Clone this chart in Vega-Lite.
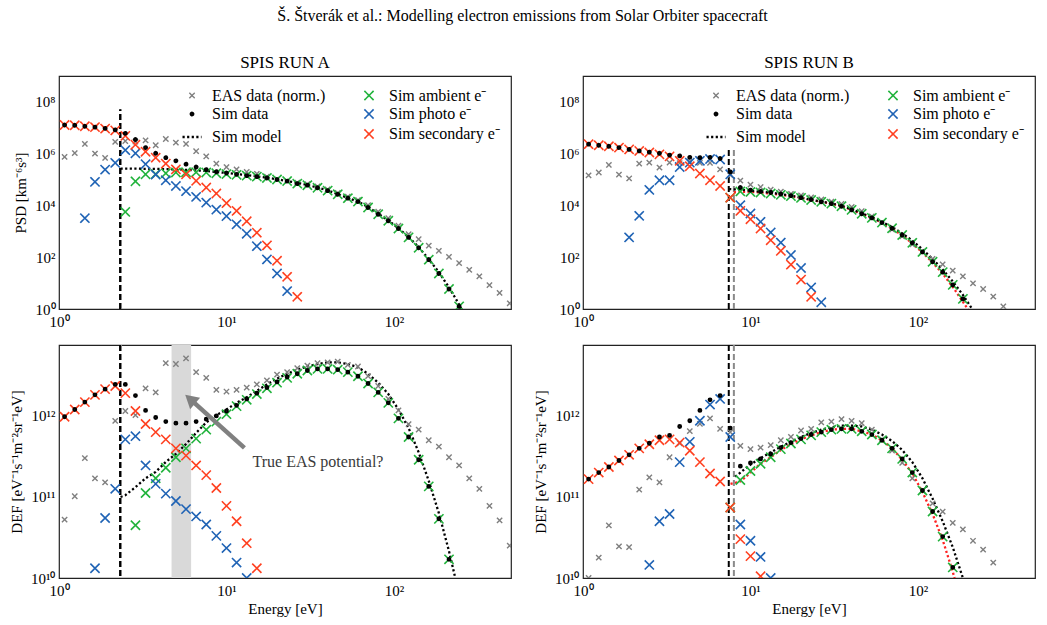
{
  "$schema": "https://vega.github.io/schema/vega-lite/v6.json",
  "padding": {"left": 8, "top": 7, "right": 5, "bottom": 4},
  "title": {"text": "Š. Štverák   et al.: Modelling electron emissions from Solar Orbiter spacecraft", "fontSize": 16, "offset": 29, "anchor": "middle"},
  "config": {
    "font": "Liberation Serif",
    "view": {"stroke": "#222222", "strokeWidth": 1.2},
    "axis": {"domain": false, "grid": false, "labelFont": "Liberation Serif", "labelFontSize": 15, "labelColor": "black", "titleFont": "Liberation Serif", "titleFontSize": 15, "titleFontWeight": "normal", "titleColor": "black", "tickColor": "#222222", "tickWidth": 1},
    "legend": {"labelFont": "Liberation Serif"},
    "title": {"font": "Liberation Serif", "fontSize": 17, "fontWeight": "normal", "color": "black", "offset": 4},
    "text": {"font": "Liberation Serif"}
  },
  "datasets": {
    "A_psd": [
      {"s":"eas","e":1.08,"v":7.24e5},{"s":"eas","e":1.242,"v":1.02e6},{"s":"eas","e":1.427,"v":2.29e6},{"s":"eas","e":1.64,"v":9.77e5},{"s":"eas","e":1.885,"v":6.61e5},{"s":"eas","e":2.166,"v":2.75e6},{"s":"eas","e":2.489,"v":2.95e6},{"s":"eas","e":2.861,"v":2.82e6},{"s":"eas","e":3.288,"v":3.16e6},{"s":"eas","e":3.779,"v":2.04e6},{"s":"eas","e":4.342,"v":3.55e6},{"s":"eas","e":4.989,"v":2.57e6},{"s":"eas","e":5.734,"v":2.29e6},{"s":"eas","e":6.589,"v":1.2e6},{"s":"eas","e":7.572,"v":7.59e5},{"s":"eas","e":8.701,"v":3.98e5},{"s":"eas","e":10,"v":2.95e5},{"s":"eas","e":11.49,"v":2.4e5},{"s":"eas","e":13.21,"v":1.91e5},{"s":"eas","e":15.18,"v":1.62e5},{"s":"eas","e":17.44,"v":1.26e5},{"s":"eas","e":20.04,"v":1.0e5},{"s":"eas","e":23.03,"v":8.51e4},{"s":"eas","e":26.47,"v":7.41e4},{"s":"eas","e":30.42,"v":6.46e4},{"s":"eas","e":34.96,"v":5.25e4},{"s":"eas","e":40.18,"v":4.07e4},{"s":"eas","e":46.17,"v":2.95e4},{"s":"eas","e":53.06,"v":2.14e4},{"s":"eas","e":60.97,"v":1.58e4},{"s":"eas","e":70.07,"v":1.0e4},{"s":"eas","e":80.54,"v":5.62e3},{"s":"eas","e":92.55,"v":3.16e3},{"s":"eas","e":106.4,"v":1.62e3},{"s":"eas","e":122.3,"v":759},{"s":"eas","e":140.5,"v":490},{"s":"eas","e":161.4,"v":275},{"s":"eas","e":185.5,"v":174},{"s":"eas","e":213.2,"v":102},{"s":"eas","e":245,"v":58.9},{"s":"eas","e":281.6,"v":32.4},{"s":"eas","e":323.6,"v":18.2},{"s":"eas","e":371.9,"v":8.32},{"s":"eas","e":427.4,"v":4.17},{"s":"eas","e":491.2,"v":1.66},
      {"s":"amb","e":2.489,"v":5.5e3},{"s":"amb","e":2.861,"v":8.32e4},{"s":"amb","e":3.288,"v":1.55e5},{"s":"amb","e":3.779,"v":1.58e5},{"s":"amb","e":4.342,"v":1.7e5},{"s":"amb","e":4.989,"v":1.82e5},{"s":"amb","e":5.734,"v":1.86e5},{"s":"amb","e":6.589,"v":1.86e5},{"s":"amb","e":7.572,"v":1.82e5},{"s":"amb","e":8.701,"v":1.7e5},{"s":"amb","e":10,"v":1.58e5},{"s":"amb","e":11.49,"v":1.48e5},{"s":"amb","e":13.21,"v":1.38e5},{"s":"amb","e":15.18,"v":1.26e5},{"s":"amb","e":17.44,"v":1.12e5},{"s":"amb","e":20.04,"v":9.77e4},{"s":"amb","e":23.03,"v":8.51e4},{"s":"amb","e":26.47,"v":6.76e4},{"s":"amb","e":30.42,"v":5.89e4},{"s":"amb","e":34.96,"v":4.68e4},{"s":"amb","e":40.18,"v":3.63e4},{"s":"amb","e":46.17,"v":2.63e4},{"s":"amb","e":53.06,"v":1.86e4},{"s":"amb","e":60.97,"v":1.38e4},{"s":"amb","e":70.07,"v":8.13e3},{"s":"amb","e":80.54,"v":4.47e3},{"s":"amb","e":92.55,"v":2.51e3},{"s":"amb","e":106.4,"v":1.26e3},{"s":"amb","e":122.3,"v":575},{"s":"amb","e":140.5,"v":229},{"s":"amb","e":161.4,"v":79.4},{"s":"amb","e":185.5,"v":23.4},{"s":"amb","e":213.2,"v":5.89},{"s":"amb","e":245,"v":1.26},
      {"s":"pho","e":1.427,"v":3.16e3},{"s":"pho","e":1.64,"v":7.94e4},{"s":"pho","e":1.885,"v":2.34e5},{"s":"pho","e":2.166,"v":4.27e5},{"s":"pho","e":2.489,"v":1.32e6},{"s":"pho","e":2.861,"v":1.0e6},{"s":"pho","e":3.288,"v":3.8e5},{"s":"pho","e":3.779,"v":1.51e5},{"s":"pho","e":4.342,"v":9.12e4},{"s":"pho","e":4.989,"v":5.5e4},{"s":"pho","e":5.734,"v":3.47e4},{"s":"pho","e":6.589,"v":2.09e4},{"s":"pho","e":7.572,"v":1.26e4},{"s":"pho","e":8.701,"v":6.76e3},{"s":"pho","e":10,"v":3.8e3},{"s":"pho","e":11.49,"v":1.82e3},{"s":"pho","e":13.21,"v":794},{"s":"pho","e":15.18,"v":263},{"s":"pho","e":17.44,"v":81.3},{"s":"pho","e":20.04,"v":23.4},{"s":"pho","e":23.03,"v":4.9},
      {"s":"sec","e":1.08,"v":1.23e7},{"s":"sec","e":1.242,"v":1.2e7},{"s":"sec","e":1.427,"v":1.1e7},{"s":"sec","e":1.64,"v":1.02e7},{"s":"sec","e":1.885,"v":8.91e6},{"s":"sec","e":2.166,"v":7.59e6},{"s":"sec","e":2.489,"v":4.68e6},{"s":"sec","e":2.861,"v":2.14e6},{"s":"sec","e":3.288,"v":1.15e6},{"s":"sec","e":3.779,"v":6.76e5},{"s":"sec","e":4.342,"v":3.98e5},{"s":"sec","e":4.989,"v":2.4e5},{"s":"sec","e":5.734,"v":1.55e5},{"s":"sec","e":6.589,"v":8.71e4},{"s":"sec","e":7.572,"v":4.79e4},{"s":"sec","e":8.701,"v":2.82e4},{"s":"sec","e":10,"v":1.2e4},{"s":"sec","e":11.49,"v":6.03e3},{"s":"sec","e":13.21,"v":2.4e3},{"s":"sec","e":15.18,"v":871},{"s":"sec","e":17.44,"v":282},{"s":"sec","e":20.04,"v":72.4},{"s":"sec","e":23.03,"v":17.4},{"s":"sec","e":26.47,"v":2.95},
      {"s":"sim","e":1.08,"v":1.23e7},{"s":"sim","e":1.242,"v":1.2e7},{"s":"sim","e":1.427,"v":1.1e7},{"s":"sim","e":1.64,"v":1.02e7},{"s":"sim","e":1.885,"v":9.1e6},{"s":"sim","e":2.166,"v":8.0e6},{"s":"sim","e":2.489,"v":5.89e6},{"s":"sim","e":2.861,"v":3.39e6},{"s":"sim","e":3.288,"v":1.66e6},{"s":"sim","e":3.779,"v":1.0e6},{"s":"sim","e":4.342,"v":6.76e5},{"s":"sim","e":4.989,"v":5.13e5},{"s":"sim","e":5.734,"v":3.8e5},{"s":"sim","e":6.589,"v":2.95e5},{"s":"sim","e":7.572,"v":2.34e5},{"s":"sim","e":8.701,"v":1.95e5},{"s":"sim","e":10,"v":1.74e5},{"s":"sim","e":11.49,"v":1.55e5},{"s":"sim","e":13.21,"v":1.38e5},{"s":"sim","e":15.18,"v":1.26e5},{"s":"sim","e":17.44,"v":1.12e5},{"s":"sim","e":20.04,"v":9.77e4},{"s":"sim","e":23.03,"v":8.51e4},{"s":"sim","e":26.47,"v":6.76e4},{"s":"sim","e":30.42,"v":5.89e4},{"s":"sim","e":34.96,"v":4.68e4},{"s":"sim","e":40.18,"v":3.63e4},{"s":"sim","e":46.17,"v":2.63e4},{"s":"sim","e":53.06,"v":1.86e4},{"s":"sim","e":60.97,"v":1.38e4},{"s":"sim","e":70.07,"v":8.13e3},{"s":"sim","e":80.54,"v":4.47e3},{"s":"sim","e":92.55,"v":2.51e3},{"s":"sim","e":106.4,"v":1.26e3},{"s":"sim","e":122.3,"v":575},{"s":"sim","e":140.5,"v":229},{"s":"sim","e":161.4,"v":79.4},{"s":"sim","e":185.5,"v":23.4},{"s":"sim","e":213.2,"v":5.89},{"s":"sim","e":245,"v":1.26},
      {"s":"mod","e":2.33,"v":2.57e5},{"s":"mod","e":2.489,"v":2.57e5},{"s":"mod","e":2.861,"v":2.57e5},{"s":"mod","e":3.288,"v":2.51e5},{"s":"mod","e":3.779,"v":2.51e5},{"s":"mod","e":4.342,"v":2.45e5},{"s":"mod","e":4.989,"v":2.4e5},{"s":"mod","e":5.734,"v":2.29e5},{"s":"mod","e":6.589,"v":2.19e5},{"s":"mod","e":7.572,"v":2.09e5},{"s":"mod","e":8.701,"v":1.91e5},{"s":"mod","e":10,"v":1.74e5},{"s":"mod","e":11.49,"v":1.58e5},{"s":"mod","e":13.21,"v":1.45e5},{"s":"mod","e":15.18,"v":1.29e5},{"s":"mod","e":17.44,"v":1.15e5},{"s":"mod","e":20.04,"v":1.0e5},{"s":"mod","e":23.03,"v":8.51e4},{"s":"mod","e":26.47,"v":7.24e4},{"s":"mod","e":30.42,"v":6.03e4},{"s":"mod","e":34.96,"v":4.79e4},{"s":"mod","e":40.18,"v":3.72e4},{"s":"mod","e":46.17,"v":2.69e4},{"s":"mod","e":53.06,"v":1.91e4},{"s":"mod","e":60.97,"v":1.38e4},{"s":"mod","e":70.07,"v":8.51e3},{"s":"mod","e":80.54,"v":4.68e3},{"s":"mod","e":92.55,"v":2.57e3},{"s":"mod","e":106.4,"v":1.29e3},{"s":"mod","e":122.3,"v":589},{"s":"mod","e":140.5,"v":240},{"s":"mod","e":161.4,"v":83},{"s":"mod","e":185.5,"v":26},{"s":"mod","e":213.2,"v":6.8},{"s":"mod","e":245,"v":1.5},{"s":"mod","e":281.6,"v":0.25}
    ],
    "B_psd": [
      {"s":"eas","e":1.08,"v":1.41e5},{"s":"eas","e":1.242,"v":1.82e5},{"s":"eas","e":1.427,"v":3.55e5},{"s":"eas","e":1.64,"v":1.51e5},{"s":"eas","e":1.885,"v":1.07e5},{"s":"eas","e":2.166,"v":3.98e5},{"s":"eas","e":2.489,"v":4.37e5},{"s":"eas","e":2.861,"v":2.82e5},{"s":"eas","e":3.288,"v":4.37e5},{"s":"eas","e":3.779,"v":4.17e5},{"s":"eas","e":4.342,"v":4.79e5},{"s":"eas","e":4.989,"v":4.27e5},{"s":"eas","e":5.734,"v":4.27e5},{"s":"eas","e":6.589,"v":2.4e5},{"s":"eas","e":7.572,"v":1.45e5},{"s":"eas","e":8.701,"v":8.91e4},{"s":"eas","e":10,"v":6.17e4},{"s":"eas","e":11.49,"v":5.01e4},{"s":"eas","e":13.21,"v":3.98e4},{"s":"eas","e":15.18,"v":3.31e4},{"s":"eas","e":17.44,"v":2.75e4},{"s":"eas","e":20.04,"v":2.4e4},{"s":"eas","e":23.03,"v":2.0e4},{"s":"eas","e":26.47,"v":1.66e4},{"s":"eas","e":30.42,"v":1.38e4},{"s":"eas","e":34.96,"v":1.12e4},{"s":"eas","e":40.18,"v":8.51e3},{"s":"eas","e":46.17,"v":5.9e3},{"s":"eas","e":53.06,"v":3.72e3},{"s":"eas","e":60.97,"v":2.14e3},{"s":"eas","e":70.07,"v":1.15e3},{"s":"eas","e":80.54,"v":630},{"s":"eas","e":92.55,"v":308},{"s":"eas","e":106.4,"v":164},{"s":"eas","e":122.3,"v":86},{"s":"eas","e":140.5,"v":52.5},{"s":"eas","e":161.4,"v":30.2},{"s":"eas","e":185.5,"v":18.2},{"s":"eas","e":213.2,"v":9.77},{"s":"eas","e":245,"v":5.89},{"s":"eas","e":281.6,"v":3.02},{"s":"eas","e":323.6,"v":1.26},
      {"s":"amb","e":7.572,"v":1.95e4},{"s":"amb","e":8.701,"v":3.39e4},{"s":"amb","e":10,"v":3.24e4},{"s":"amb","e":11.49,"v":3.09e4},{"s":"amb","e":13.21,"v":2.82e4},{"s":"amb","e":15.18,"v":2.51e4},{"s":"amb","e":17.44,"v":2.24e4},{"s":"amb","e":20.04,"v":1.91e4},{"s":"amb","e":23.03,"v":1.58e4},{"s":"amb","e":26.47,"v":1.35e4},{"s":"amb","e":30.42,"v":1.15e4},{"s":"amb","e":34.96,"v":9.12e3},{"s":"amb","e":40.18,"v":6.61e3},{"s":"amb","e":46.17,"v":4.68e3},{"s":"amb","e":53.06,"v":3.24e3},{"s":"amb","e":60.97,"v":2.14e3},{"s":"amb","e":70.07,"v":1.29e3},{"s":"amb","e":80.54,"v":708},{"s":"amb","e":92.55,"v":355},{"s":"amb","e":106.4,"v":158},{"s":"amb","e":122.3,"v":66.1},{"s":"amb","e":140.5,"v":26.3},{"s":"amb","e":161.4,"v":8.51},{"s":"amb","e":185.5,"v":2.45},
      {"s":"pho","e":1.885,"v":575},{"s":"pho","e":2.166,"v":3.89e3},{"s":"pho","e":2.489,"v":3.89e4},{"s":"pho","e":2.861,"v":9.12e4},{"s":"pho","e":3.288,"v":9.12e4},{"s":"pho","e":3.779,"v":2.95e5},{"s":"pho","e":4.342,"v":4.37e5},{"s":"pho","e":4.989,"v":5.13e5},{"s":"pho","e":5.734,"v":6.0e5},{"s":"pho","e":6.589,"v":5.75e5},{"s":"pho","e":7.572,"v":1.55e5},{"s":"pho","e":8.701,"v":1.0e4},{"s":"pho","e":10,"v":4.79e3},{"s":"pho","e":11.49,"v":2.29e3},{"s":"pho","e":13.21,"v":891},{"s":"pho","e":15.18,"v":363},{"s":"pho","e":17.44,"v":120},{"s":"pho","e":20.04,"v":38},{"s":"pho","e":23.03,"v":6.76},{"s":"pho","e":26.47,"v":1.82},
      {"s":"sec","e":1.08,"v":2.24e6},{"s":"sec","e":1.242,"v":2.04e6},{"s":"sec","e":1.427,"v":1.86e6},{"s":"sec","e":1.64,"v":1.66e6},{"s":"sec","e":1.885,"v":1.41e6},{"s":"sec","e":2.166,"v":1.23e6},{"s":"sec","e":2.489,"v":1.07e6},{"s":"sec","e":2.861,"v":9.12e5},{"s":"sec","e":3.288,"v":7.59e5},{"s":"sec","e":3.779,"v":5.13e5},{"s":"sec","e":4.342,"v":3.16e5},{"s":"sec","e":4.989,"v":1.66e5},{"s":"sec","e":5.734,"v":9.12e4},{"s":"sec","e":6.589,"v":5.5e4},{"s":"sec","e":7.572,"v":1.95e4},{"s":"sec","e":8.701,"v":6.03e3},{"s":"sec","e":10,"v":2.88e3},{"s":"sec","e":11.49,"v":1.26e3},{"s":"sec","e":13.21,"v":447},{"s":"sec","e":15.18,"v":174},{"s":"sec","e":17.44,"v":51.3},{"s":"sec","e":20.04,"v":13.5},{"s":"sec","e":23.03,"v":2.95},
      {"s":"sim","e":1.08,"v":2.24e6},{"s":"sim","e":1.242,"v":2.04e6},{"s":"sim","e":1.427,"v":1.86e6},{"s":"sim","e":1.64,"v":1.66e6},{"s":"sim","e":1.885,"v":1.41e6},{"s":"sim","e":2.166,"v":1.23e6},{"s":"sim","e":2.489,"v":1.11e6},{"s":"sim","e":2.861,"v":1.0e6},{"s":"sim","e":3.288,"v":8.51e5},{"s":"sim","e":3.779,"v":7.94e5},{"s":"sim","e":4.342,"v":7.0e5},{"s":"sim","e":4.989,"v":6.8e5},{"s":"sim","e":5.734,"v":7.0e5},{"s":"sim","e":6.589,"v":6.3e5},{"s":"sim","e":7.572,"v":1.91e5},{"s":"sim","e":8.701,"v":4.79e4},{"s":"sim","e":10,"v":3.8e4},{"s":"sim","e":11.49,"v":3.39e4},{"s":"sim","e":13.21,"v":3.09e4},{"s":"sim","e":15.18,"v":2.69e4},{"s":"sim","e":17.44,"v":2.34e4},{"s":"sim","e":20.04,"v":1.95e4},{"s":"sim","e":23.03,"v":1.66e4},{"s":"sim","e":26.47,"v":1.35e4},{"s":"sim","e":30.42,"v":1.15e4},{"s":"sim","e":34.96,"v":9.12e3},{"s":"sim","e":40.18,"v":6.61e3},{"s":"sim","e":46.17,"v":4.68e3},{"s":"sim","e":53.06,"v":3.24e3},{"s":"sim","e":60.97,"v":2.14e3},{"s":"sim","e":70.07,"v":1.29e3},{"s":"sim","e":80.54,"v":708},{"s":"sim","e":92.55,"v":355},{"s":"sim","e":106.4,"v":158},{"s":"sim","e":122.3,"v":66.1},{"s":"sim","e":140.5,"v":26.3},{"s":"sim","e":161.4,"v":8.51},{"s":"sim","e":185.5,"v":2.45},
      {"s":"mod","e":7.45,"v":4.17e4},{"s":"mod","e":8.701,"v":3.98e4},{"s":"mod","e":10,"v":3.63e4},{"s":"mod","e":11.49,"v":3.31e4},{"s":"mod","e":13.21,"v":3.02e4},{"s":"mod","e":15.18,"v":2.69e4},{"s":"mod","e":17.44,"v":2.34e4},{"s":"mod","e":20.04,"v":1.95e4},{"s":"mod","e":23.03,"v":1.62e4},{"s":"mod","e":26.47,"v":1.38e4},{"s":"mod","e":30.42,"v":1.17e4},{"s":"mod","e":34.96,"v":9.55e3},{"s":"mod","e":40.18,"v":6.92e3},{"s":"mod","e":46.17,"v":4.9e3},{"s":"mod","e":53.06,"v":3.39e3},{"s":"mod","e":60.97,"v":2.24e3},{"s":"mod","e":70.07,"v":1.45e3},{"s":"mod","e":80.54,"v":820},{"s":"mod","e":92.55,"v":430},{"s":"mod","e":106.4,"v":200},{"s":"mod","e":122.3,"v":85},{"s":"mod","e":140.5,"v":33},{"s":"mod","e":161.4,"v":11.5},{"s":"mod","e":185.5,"v":3.5},{"s":"mod","e":213.2,"v":0.9},
      {"s":"mod2","e":7.95,"v":3.16e4},{"s":"mod2","e":8.701,"v":3.31e4},{"s":"mod2","e":10,"v":3.24e4},{"s":"mod2","e":11.49,"v":3.09e4},{"s":"mod2","e":13.21,"v":2.82e4},{"s":"mod2","e":15.18,"v":2.51e4},{"s":"mod2","e":17.44,"v":2.24e4},{"s":"mod2","e":20.04,"v":1.91e4},{"s":"mod2","e":23.03,"v":1.58e4},{"s":"mod2","e":26.47,"v":1.35e4},{"s":"mod2","e":30.42,"v":1.15e4},{"s":"mod2","e":34.96,"v":9.12e3},{"s":"mod2","e":40.18,"v":6.61e3},{"s":"mod2","e":46.17,"v":4.68e3},{"s":"mod2","e":53.06,"v":3.24e3},{"s":"mod2","e":60.97,"v":2.14e3},{"s":"mod2","e":70.07,"v":1.26e3},{"s":"mod2","e":80.54,"v":692},{"s":"mod2","e":92.55,"v":339},{"s":"mod2","e":106.4,"v":150},{"s":"mod2","e":122.3,"v":62},{"s":"mod2","e":140.5,"v":23},{"s":"mod2","e":161.4,"v":7.1},{"s":"mod2","e":185.5,"v":1.9},{"s":"mod2","e":213.2,"v":0.5}
    ],
    "A_def": [
      {"s":"eas","e":1.08,"v":5.25e10},{"s":"eas","e":1.242,"v":1.02e11},{"s":"eas","e":1.427,"v":3.02e11},{"s":"eas","e":1.64,"v":1.7e11},{"s":"eas","e":1.885,"v":1.51e11},{"s":"eas","e":2.166,"v":8.71e11},{"s":"eas","e":2.489,"v":1.15e12},{"s":"eas","e":2.861,"v":1.02e12},{"s":"eas","e":3.288,"v":2.19e12},{"s":"eas","e":3.779,"v":1.95e12},{"s":"eas","e":4.342,"v":4.47e12},{"s":"eas","e":4.989,"v":4.37e12},{"s":"eas","e":5.734,"v":5.13e12},{"s":"eas","e":6.589,"v":3.47e12},{"s":"eas","e":7.572,"v":2.95e12},{"s":"eas","e":8.701,"v":2.09e12},{"s":"eas","e":10,"v":2.0e12},{"s":"eas","e":11.49,"v":2.09e12},{"s":"eas","e":13.21,"v":2.24e12},{"s":"eas","e":15.18,"v":2.45e12},{"s":"eas","e":17.44,"v":2.75e12},{"s":"eas","e":20.04,"v":3.24e12},{"s":"eas","e":23.03,"v":3.47e12},{"s":"eas","e":26.47,"v":3.89e12},{"s":"eas","e":30.42,"v":4.17e12},{"s":"eas","e":34.96,"v":4.47e12},{"s":"eas","e":40.18,"v":4.57e12},{"s":"eas","e":46.17,"v":4.68e12},{"s":"eas","e":53.06,"v":4.27e12},{"s":"eas","e":60.97,"v":4.07e12},{"s":"eas","e":70.07,"v":3.09e12},{"s":"eas","e":80.54,"v":2.34e12},{"s":"eas","e":92.55,"v":1.62e12},{"s":"eas","e":106.4,"v":1.17e12},{"s":"eas","e":122.3,"v":7.94e11},{"s":"eas","e":140.5,"v":6.76e11},{"s":"eas","e":161.4,"v":5.01e11},{"s":"eas","e":185.5,"v":4.17e11},{"s":"eas","e":213.2,"v":3.09e11},{"s":"eas","e":245,"v":2.45e11},{"s":"eas","e":281.6,"v":1.7e11},{"s":"eas","e":323.6,"v":1.26e11},{"s":"eas","e":371.9,"v":7.76e10},{"s":"eas","e":427.4,"v":5.13e10},{"s":"eas","e":491.2,"v":2.51e10},
      {"s":"amb","e":2.861,"v":4.47e10},{"s":"amb","e":3.288,"v":1.12e11},{"s":"amb","e":3.779,"v":1.7e11},{"s":"amb","e":4.342,"v":2.29e11},{"s":"amb","e":4.989,"v":3.09e11},{"s":"amb","e":5.734,"v":3.98e11},{"s":"amb","e":6.589,"v":5.25e11},{"s":"amb","e":7.572,"v":6.76e11},{"s":"amb","e":8.701,"v":8.51e11},{"s":"amb","e":10,"v":1.05e12},{"s":"amb","e":11.49,"v":1.32e12},{"s":"amb","e":13.21,"v":1.58e12},{"s":"amb","e":15.18,"v":1.86e12},{"s":"amb","e":17.44,"v":2.19e12},{"s":"amb","e":20.04,"v":2.57e12},{"s":"amb","e":23.03,"v":2.95e12},{"s":"amb","e":26.47,"v":3.31e12},{"s":"amb","e":30.42,"v":3.63e12},{"s":"amb","e":34.96,"v":3.8e12},{"s":"amb","e":40.18,"v":3.8e12},{"s":"amb","e":46.17,"v":3.72e12},{"s":"amb","e":53.06,"v":3.47e12},{"s":"amb","e":60.97,"v":3.09e12},{"s":"amb","e":70.07,"v":2.51e12},{"s":"amb","e":80.54,"v":1.95e12},{"s":"amb","e":92.55,"v":1.45e12},{"s":"amb","e":106.4,"v":9.33e11},{"s":"amb","e":122.3,"v":5.5e11},{"s":"amb","e":140.5,"v":2.88e11},{"s":"amb","e":161.4,"v":1.35e11},{"s":"amb","e":185.5,"v":5.37e10},{"s":"amb","e":213.2,"v":1.7e10},
      {"s":"pho","e":1.64,"v":1.32e10},{"s":"pho","e":1.885,"v":5.5e10},{"s":"pho","e":2.166,"v":1.26e11},{"s":"pho","e":2.489,"v":5.13e11},{"s":"pho","e":2.861,"v":5.62e11},{"s":"pho","e":3.288,"v":2.45e11},{"s":"pho","e":3.779,"v":1.45e11},{"s":"pho","e":4.342,"v":1.1e11},{"s":"pho","e":4.989,"v":8.91e10},{"s":"pho","e":5.734,"v":7.08e10},{"s":"pho","e":6.589,"v":5.75e10},{"s":"pho","e":7.572,"v":4.57e10},{"s":"pho","e":8.701,"v":3.31e10},{"s":"pho","e":10,"v":2.34e10},{"s":"pho","e":11.49,"v":1.55e10},{"s":"pho","e":13.21,"v":1.0e10},
      {"s":"sec","e":1.08,"v":9.77e11},{"s":"sec","e":1.242,"v":1.2e12},{"s":"sec","e":1.427,"v":1.48e12},{"s":"sec","e":1.64,"v":1.82e12},{"s":"sec","e":1.885,"v":2.14e12},{"s":"sec","e":2.166,"v":2.34e12},{"s":"sec","e":2.489,"v":1.91e12},{"s":"sec","e":2.861,"v":1.15e12},{"s":"sec","e":3.288,"v":7.94e11},{"s":"sec","e":3.779,"v":6.31e11},{"s":"sec","e":4.342,"v":5.13e11},{"s":"sec","e":4.989,"v":3.98e11},{"s":"sec","e":5.734,"v":3.24e11},{"s":"sec","e":6.589,"v":2.45e11},{"s":"sec","e":7.572,"v":1.86e11},{"s":"sec","e":8.701,"v":1.29e11},{"s":"sec","e":10,"v":7.76e10},{"s":"sec","e":11.49,"v":5.01e10},{"s":"sec","e":13.21,"v":2.69e10},{"s":"sec","e":15.18,"v":1.32e10},
      {"s":"sim","e":1.08,"v":9.77e11},{"s":"sim","e":1.242,"v":1.2e12},{"s":"sim","e":1.427,"v":1.48e12},{"s":"sim","e":1.64,"v":1.82e12},{"s":"sim","e":1.885,"v":2.14e12},{"s":"sim","e":2.166,"v":2.45e12},{"s":"sim","e":2.489,"v":2.45e12},{"s":"sim","e":2.861,"v":1.78e12},{"s":"sim","e":3.288,"v":1.17e12},{"s":"sim","e":3.779,"v":9.55e11},{"s":"sim","e":4.342,"v":8.51e11},{"s":"sim","e":4.989,"v":8.13e11},{"s":"sim","e":5.734,"v":8.13e11},{"s":"sim","e":6.589,"v":8.51e11},{"s":"sim","e":7.572,"v":9.12e11},{"s":"sim","e":8.701,"v":1.0e12},{"s":"sim","e":10,"v":1.15e12},{"s":"sim","e":11.49,"v":1.35e12},{"s":"sim","e":13.21,"v":1.62e12},{"s":"sim","e":15.18,"v":1.91e12},{"s":"sim","e":17.44,"v":2.24e12},{"s":"sim","e":20.04,"v":2.63e12},{"s":"sim","e":23.03,"v":3.02e12},{"s":"sim","e":26.47,"v":3.31e12},{"s":"sim","e":30.42,"v":3.63e12},{"s":"sim","e":34.96,"v":3.8e12},{"s":"sim","e":40.18,"v":3.8e12},{"s":"sim","e":46.17,"v":3.72e12},{"s":"sim","e":53.06,"v":3.47e12},{"s":"sim","e":60.97,"v":3.09e12},{"s":"sim","e":70.07,"v":2.51e12},{"s":"sim","e":80.54,"v":1.95e12},{"s":"sim","e":92.55,"v":1.45e12},{"s":"sim","e":106.4,"v":9.33e11},{"s":"sim","e":122.3,"v":5.5e11},{"s":"sim","e":140.5,"v":2.88e11},{"s":"sim","e":161.4,"v":1.35e11},{"s":"sim","e":185.5,"v":5.37e10},{"s":"sim","e":213.2,"v":1.7e10},
      {"s":"mod","e":2.33,"v":1.0e11},{"s":"mod","e":2.489,"v":1.05e11},{"s":"mod","e":2.861,"v":1.32e11},{"s":"mod","e":3.288,"v":1.7e11},{"s":"mod","e":3.779,"v":2.04e11},{"s":"mod","e":4.342,"v":2.7e11},{"s":"mod","e":4.989,"v":3.4e11},{"s":"mod","e":5.734,"v":4.5e11},{"s":"mod","e":6.589,"v":6.17e11},{"s":"mod","e":7.572,"v":8.32e11},{"s":"mod","e":8.701,"v":1.02e12},{"s":"mod","e":10,"v":1.2e12},{"s":"mod","e":11.49,"v":1.45e12},{"s":"mod","e":13.21,"v":1.7e12},{"s":"mod","e":15.18,"v":2.04e12},{"s":"mod","e":17.44,"v":2.45e12},{"s":"mod","e":20.04,"v":2.88e12},{"s":"mod","e":23.03,"v":3.31e12},{"s":"mod","e":26.47,"v":3.72e12},{"s":"mod","e":30.42,"v":4.07e12},{"s":"mod","e":34.96,"v":4.37e12},{"s":"mod","e":40.18,"v":4.57e12},{"s":"mod","e":46.17,"v":4.57e12},{"s":"mod","e":53.06,"v":4.37e12},{"s":"mod","e":60.97,"v":3.98e12},{"s":"mod","e":70.07,"v":3.31e12},{"s":"mod","e":80.54,"v":2.57e12},{"s":"mod","e":92.55,"v":1.86e12},{"s":"mod","e":106.4,"v":1.2e12},{"s":"mod","e":122.3,"v":7.08e11},{"s":"mod","e":140.5,"v":3.55e11},{"s":"mod","e":161.4,"v":1.58e11},{"s":"mod","e":185.5,"v":6.31e10},{"s":"mod","e":213.2,"v":2.14e10},{"s":"mod","e":245,"v":6.31e9}
    ],
    "B_def": [
      {"s":"eas","e":1.08,"v":1.0e10},{"s":"eas","e":1.242,"v":1.78e10},{"s":"eas","e":1.427,"v":4.47e10},{"s":"eas","e":1.64,"v":2.45e10},{"s":"eas","e":1.885,"v":2.4e10},{"s":"eas","e":2.166,"v":1.23e11},{"s":"eas","e":2.489,"v":1.74e11},{"s":"eas","e":2.861,"v":1.51e11},{"s":"eas","e":3.288,"v":3.09e11},{"s":"eas","e":3.779,"v":4.6e11},{"s":"eas","e":4.342,"v":6.5e11},{"s":"eas","e":4.989,"v":8.0e11},{"s":"eas","e":5.734,"v":9.33e11},{"s":"eas","e":6.589,"v":6.92e11},{"s":"eas","e":7.572,"v":6.31e11},{"s":"eas","e":8.701,"v":4.27e11},{"s":"eas","e":10,"v":3.89e11},{"s":"eas","e":11.49,"v":4.07e11},{"s":"eas","e":13.21,"v":4.37e11},{"s":"eas","e":15.18,"v":5.01e11},{"s":"eas","e":17.44,"v":5.5e11},{"s":"eas","e":20.04,"v":6.61e11},{"s":"eas","e":23.03,"v":6.92e11},{"s":"eas","e":26.47,"v":8.32e11},{"s":"eas","e":30.42,"v":8.51e11},{"s":"eas","e":34.96,"v":9.12e11},{"s":"eas","e":40.18,"v":8.71e11},{"s":"eas","e":46.17,"v":8.13e11},{"s":"eas","e":53.06,"v":6.76e11},{"s":"eas","e":60.97,"v":5.13e11},{"s":"eas","e":70.07,"v":3.72e11},{"s":"eas","e":80.54,"v":2.63e11},{"s":"eas","e":92.55,"v":1.7e11},{"s":"eas","e":106.4,"v":1.2e11},{"s":"eas","e":122.3,"v":8.32e10},{"s":"eas","e":140.5,"v":6.61e10},{"s":"eas","e":161.4,"v":4.79e10},{"s":"eas","e":185.5,"v":3.98e10},{"s":"eas","e":213.2,"v":2.88e10},{"s":"eas","e":245,"v":2.24e10},{"s":"eas","e":281.6,"v":1.55e10},
      {"s":"amb","e":7.572,"v":7.41e10},{"s":"amb","e":8.701,"v":1.62e11},{"s":"amb","e":10,"v":2.09e11},{"s":"amb","e":11.49,"v":2.57e11},{"s":"amb","e":13.21,"v":3.09e11},{"s":"amb","e":15.18,"v":3.89e11},{"s":"amb","e":17.44,"v":4.57e11},{"s":"amb","e":20.04,"v":5.13e11},{"s":"amb","e":23.03,"v":5.75e11},{"s":"amb","e":26.47,"v":6.31e11},{"s":"amb","e":30.42,"v":6.76e11},{"s":"amb","e":34.96,"v":6.92e11},{"s":"amb","e":40.18,"v":6.92e11},{"s":"amb","e":46.17,"v":6.46e11},{"s":"amb","e":53.06,"v":5.89e11},{"s":"amb","e":60.97,"v":5.01e11},{"s":"amb","e":70.07,"v":3.98e11},{"s":"amb","e":80.54,"v":2.95e11},{"s":"amb","e":92.55,"v":2.0e11},{"s":"amb","e":106.4,"v":1.2e11},{"s":"amb","e":122.3,"v":6.61e10},{"s":"amb","e":140.5,"v":3.24e10},{"s":"amb","e":161.4,"v":1.35e10},
      {"s":"pho","e":2.489,"v":1.45e10},{"s":"pho","e":2.861,"v":5.01e10},{"s":"pho","e":3.288,"v":6.17e10},{"s":"pho","e":3.779,"v":2.69e11},{"s":"pho","e":4.342,"v":4.79e11},{"s":"pho","e":4.989,"v":8.71e11},{"s":"pho","e":5.734,"v":1.38e12},{"s":"pho","e":6.589,"v":1.62e12},{"s":"pho","e":7.572,"v":5.5e11},{"s":"pho","e":8.701,"v":4.57e10},{"s":"pho","e":10,"v":2.88e10},{"s":"pho","e":11.49,"v":1.82e10},{"s":"pho","e":13.21,"v":1.0e10},
      {"s":"sec","e":1.08,"v":1.66e11},{"s":"sec","e":1.242,"v":2.0e11},{"s":"sec","e":1.427,"v":2.34e11},{"s":"sec","e":1.64,"v":2.82e11},{"s":"sec","e":1.885,"v":3.31e11},{"s":"sec","e":2.166,"v":3.98e11},{"s":"sec","e":2.489,"v":4.47e11},{"s":"sec","e":2.861,"v":5.01e11},{"s":"sec","e":3.288,"v":5.13e11},{"s":"sec","e":3.779,"v":4.68e11},{"s":"sec","e":4.342,"v":3.72e11},{"s":"sec","e":4.989,"v":2.69e11},{"s":"sec","e":5.734,"v":1.95e11},{"s":"sec","e":6.589,"v":1.55e11},{"s":"sec","e":7.572,"v":7.41e10},{"s":"sec","e":8.701,"v":3.02e10},{"s":"sec","e":10,"v":1.86e10},{"s":"sec","e":11.49,"v":1.05e10},
      {"s":"sim","e":1.08,"v":1.66e11},{"s":"sim","e":1.242,"v":2.0e11},{"s":"sim","e":1.427,"v":2.34e11},{"s":"sim","e":1.64,"v":2.82e11},{"s":"sim","e":1.885,"v":3.31e11},{"s":"sim","e":2.166,"v":3.98e11},{"s":"sim","e":2.489,"v":4.6e11},{"s":"sim","e":2.861,"v":5.5e11},{"s":"sim","e":3.288,"v":5.75e11},{"s":"sim","e":3.779,"v":7.41e11},{"s":"sim","e":4.342,"v":8.71e11},{"s":"sim","e":4.989,"v":1.17e12},{"s":"sim","e":5.734,"v":1.58e12},{"s":"sim","e":6.589,"v":1.78e12},{"s":"sim","e":7.572,"v":7.08e11},{"s":"sim","e":8.701,"v":2.4e11},{"s":"sim","e":10,"v":2.63e11},{"s":"sim","e":11.49,"v":2.95e11},{"s":"sim","e":13.21,"v":3.39e11},{"s":"sim","e":15.18,"v":4.07e11},{"s":"sim","e":17.44,"v":4.68e11},{"s":"sim","e":20.04,"v":5.25e11},{"s":"sim","e":23.03,"v":5.89e11},{"s":"sim","e":26.47,"v":6.31e11},{"s":"sim","e":30.42,"v":6.76e11},{"s":"sim","e":34.96,"v":6.92e11},{"s":"sim","e":40.18,"v":6.92e11},{"s":"sim","e":46.17,"v":6.46e11},{"s":"sim","e":53.06,"v":5.89e11},{"s":"sim","e":60.97,"v":5.01e11},{"s":"sim","e":70.07,"v":3.98e11},{"s":"sim","e":80.54,"v":2.95e11},{"s":"sim","e":92.55,"v":2.0e11},{"s":"sim","e":106.4,"v":1.2e11},{"s":"sim","e":122.3,"v":6.61e10},{"s":"sim","e":140.5,"v":3.24e10},{"s":"sim","e":161.4,"v":1.35e10},
      {"s":"mod","e":8.1,"v":1.78e11},{"s":"mod","e":8.701,"v":2.0e11},{"s":"mod","e":10,"v":2.51e11},{"s":"mod","e":11.49,"v":3.02e11},{"s":"mod","e":13.21,"v":3.55e11},{"s":"mod","e":15.18,"v":4.17e11},{"s":"mod","e":17.44,"v":4.79e11},{"s":"mod","e":20.04,"v":5.5e11},{"s":"mod","e":23.03,"v":6.17e11},{"s":"mod","e":26.47,"v":6.76e11},{"s":"mod","e":30.42,"v":7.24e11},{"s":"mod","e":34.96,"v":7.59e11},{"s":"mod","e":40.18,"v":7.59e11},{"s":"mod","e":46.17,"v":7.41e11},{"s":"mod","e":53.06,"v":6.76e11},{"s":"mod","e":60.97,"v":5.89e11},{"s":"mod","e":70.07,"v":4.9e11},{"s":"mod","e":80.54,"v":3.8e11},{"s":"mod","e":92.55,"v":2.69e11},{"s":"mod","e":106.4,"v":1.7e11},{"s":"mod","e":122.3,"v":9.55e10},{"s":"mod","e":140.5,"v":5.01e10},{"s":"mod","e":161.4,"v":2.4e10},{"s":"mod","e":185.5,"v":1.0e10},{"s":"mod","e":213.2,"v":3.55e9},
      {"s":"mod2","e":7.6,"v":1.45e11},{"s":"mod2","e":8.701,"v":1.55e11},{"s":"mod2","e":10,"v":2.0e11},{"s":"mod2","e":11.49,"v":2.57e11},{"s":"mod2","e":13.21,"v":3.09e11},{"s":"mod2","e":15.18,"v":3.8e11},{"s":"mod2","e":17.44,"v":4.47e11},{"s":"mod2","e":20.04,"v":5.13e11},{"s":"mod2","e":23.03,"v":5.75e11},{"s":"mod2","e":26.47,"v":6.31e11},{"s":"mod2","e":30.42,"v":6.76e11},{"s":"mod2","e":34.96,"v":6.92e11},{"s":"mod2","e":40.18,"v":6.92e11},{"s":"mod2","e":46.17,"v":6.46e11},{"s":"mod2","e":53.06,"v":5.89e11},{"s":"mod2","e":60.97,"v":5.01e11},{"s":"mod2","e":70.07,"v":3.98e11},{"s":"mod2","e":80.54,"v":2.88e11},{"s":"mod2","e":92.55,"v":1.95e11},{"s":"mod2","e":106.4,"v":1.15e11},{"s":"mod2","e":122.3,"v":6.17e10},{"s":"mod2","e":140.5,"v":2.95e10},{"s":"mod2","e":161.4,"v":1.2e10},{"s":"mod2","e":185.5,"v":4.0e9}
    ]
  },
  "columns": 2,
  "spacing": {"row": 9, "column": 19},
  "resolve": {"scale": {"color": "independent", "shape": "independent", "size": "independent", "strokeWidth": "independent", "strokeDash": "independent"}},
  "concat": [
    {
      "width": 452, "height": 233,
      "title": {"text": "SPIS RUN A"},
      "data": {"name": "A_psd"},
      "resolve": {"axis": {"x": "independent", "y": "independent"}},
      "layer": [
        {"data": {"values": [{"e": 2.345}]}, "mark": {"type": "rule", "color": "#8a8a8a", "strokeDash": [6, 3], "strokeWidth": 2},
         "encoding": {"x": {"field": "e", "type": "quantitative", "scale": {"type": "log", "domain": [1, 500], "nice": false}, "axis": null}, "y": {"datum": 1, "type": "quantitative", "scale": {"type": "log", "domain": [1, 9.5e8], "nice": false}, "axis": null}, "y2": {"datum": 5e7}}},
        {"data": {"values": [{"e": 2.315}]}, "mark": {"type": "rule", "color": "black", "strokeDash": [6, 3], "strokeWidth": 2},
         "encoding": {"x": {"field": "e", "type": "quantitative", "scale": {"type": "log", "domain": [1, 500], "nice": false}, "axis": null}, "y": {"datum": 1, "type": "quantitative", "scale": {"type": "log", "domain": [1, 9.5e8], "nice": false}, "axis": null}, "y2": {"datum": 5e7}}},
        {"transform": [{"filter": "datum.s == 'mod'"}], "mark": {"type": "line", "color": "black", "strokeDash": [2.2, 2.4], "strokeWidth": 2.3, "clip": true},
         "encoding": {
           "x": {"field": "e", "type": "quantitative", "scale": {"type": "log", "domain": [1, 500], "nice": false}, "axis": {"orient": "top", "values": [1,2,3,4,5,6,7,8,9,10,20,30,40,50,60,70,80,90,100,200,300,400], "labels": false, "tickSize": 0, "title": null, "encode": {"ticks": {"update": {"y2": {"signal": "(datum.value == 1 || datum.value == 10 || datum.value == 100) ? 6 : 3"}}}}}},
           "y": {"field": "v", "type": "quantitative", "scale": {"type": "log", "domain": [1, 9.5e8], "nice": false}, "axis": {"orient": "right", "values": [1, 100, 10000, 1000000, 100000000], "labels": false, "tickSize": 0, "title": null, "encode": {"ticks": {"update": {"x2": {"value": -6}}}}}}
         }},
        {"transform": [{"filter": "datum.s != 'mod' && datum.s != 'mod2'"}], "mark": {"type": "point", "filled": false, "opacity": 1, "clip": true},
         "encoding": {
           "x": {"field": "e", "type": "quantitative", "scale": {"type": "log", "domain": [1, 500], "nice": false}, "axis": {"orient": "bottom", "values": [1,2,3,4,5,6,7,8,9,10,20,30,40,50,60,70,80,90,100,200,300,400], "labelExpr": "datum.value == 1 ? '10⁰' : datum.value == 10 ? '10¹' : datum.value == 100 ? '10²' : ''", "labelFlush": false, "labelOverlap": false, "tickSize": 0, "labelPadding": 5, "title": null, "encode": {"ticks": {"update": {"y2": {"signal": "(datum.value == 1 || datum.value == 10 || datum.value == 100) ? -6 : -3"}}}}}},
           "y": {"field": "v", "type": "quantitative", "scale": {"type": "log", "domain": [1, 9.5e8], "nice": false}, "axis": {"orient": "left", "values": [1, 100, 10000, 1000000, 100000000], "labelExpr": "datum.value == 1 ? '10⁰' : datum.value == 100 ? '10²' : datum.value == 10000 ? '10⁴' : datum.value == 1000000 ? '10⁶' : '10⁸'", "tickSize": 0, "labelPadding": 4, "title": "PSD [km⁻⁶s³]", "titlePadding": 6, "encode": {"ticks": {"update": {"x2": {"value": 6}}}}}},
           "color": {"field": "s", "type": "nominal", "scale": {"domain": ["eas","sim","mod","amb","pho","sec"], "range": ["#7f7f7f","#000000","#000000","#21b33c","#1f63b5","#ff4020"]},
             "legend": {"orient": "none", "legendX": 122, "legendY": 10, "columns": 2, "gridAlign": "all", "title": null, "padding": 0, "rowPadding": 1, "columnPadding": 32, "labelOffset": 9, "labelFont": "Liberation Serif", "labelFontSize": 16, "labelColor": "black", "labelExpr": "datum.label == 'eas' ? 'EAS data (norm.)' : datum.label == 'amb' ? 'Sim ambient e⁻' : datum.label == 'sim' ? 'Sim data' : datum.label == 'pho' ? 'Sim photo e⁻' : datum.label == 'mod' ? 'Sim model' : 'Sim secondary e⁻'"}},
           "shape": {"field": "s", "type": "nominal", "scale": {"domain": ["eas","sim","mod","amb","pho","sec"], "range": ["M-1,-1L1,1M-1,1L1,-1","circle","stroke","M-1,-1L1,1M-1,1L1,-1","M-1,-1L1,1M-1,1L1,-1","M-1,-1L1,1M-1,1L1,-1"]},
             "legend": {"orient": "none", "legendX": 122, "legendY": 10, "columns": 2, "gridAlign": "all", "title": null, "padding": 0, "rowPadding": 1, "columnPadding": 32, "labelOffset": 9, "labelFont": "Liberation Serif", "labelFontSize": 16, "labelColor": "black", "labelExpr": "datum.label == 'eas' ? 'EAS data (norm.)' : datum.label == 'amb' ? 'Sim ambient e⁻' : datum.label == 'sim' ? 'Sim data' : datum.label == 'pho' ? 'Sim photo e⁻' : datum.label == 'mod' ? 'Sim model' : 'Sim secondary e⁻'"}},
           "size": {"field": "s", "type": "nominal", "scale": {"type": "ordinal", "domain": ["eas","sim","mod","amb","pho","sec"], "range": [28, 5, 361, 85, 85, 85]},
             "legend": {"orient": "none", "legendX": 122, "legendY": 10, "columns": 2, "gridAlign": "all", "title": null, "padding": 0, "rowPadding": 1, "columnPadding": 32, "labelOffset": 9, "labelFont": "Liberation Serif", "labelFontSize": 16, "labelColor": "black", "labelExpr": "datum.label == 'eas' ? 'EAS data (norm.)' : datum.label == 'amb' ? 'Sim ambient e⁻' : datum.label == 'sim' ? 'Sim data' : datum.label == 'pho' ? 'Sim photo e⁻' : datum.label == 'mod' ? 'Sim model' : 'Sim secondary e⁻'"}},
           "strokeWidth": {"field": "s", "type": "nominal", "scale": {"type": "ordinal", "domain": ["eas","sim","mod","amb","pho","sec"], "range": [1.4, 2.6, 2.3, 1.6, 1.6, 1.6]},
             "legend": {"orient": "none", "legendX": 122, "legendY": 10, "columns": 2, "gridAlign": "all", "title": null, "padding": 0, "rowPadding": 1, "columnPadding": 32, "labelOffset": 9, "labelFont": "Liberation Serif", "labelFontSize": 16, "labelColor": "black", "labelExpr": "datum.label == 'eas' ? 'EAS data (norm.)' : datum.label == 'amb' ? 'Sim ambient e⁻' : datum.label == 'sim' ? 'Sim data' : datum.label == 'pho' ? 'Sim photo e⁻' : datum.label == 'mod' ? 'Sim model' : 'Sim secondary e⁻'"}},
           "strokeDash": {"field": "s", "type": "nominal", "scale": {"domain": ["eas","sim","mod","amb","pho","sec"], "range": [[1,0],[1,0],[2.2,2.4],[1,0],[1,0],[1,0]]},
             "legend": {"orient": "none", "legendX": 122, "legendY": 10, "columns": 2, "gridAlign": "all", "title": null, "padding": 0, "rowPadding": 1, "columnPadding": 32, "labelOffset": 9, "labelFont": "Liberation Serif", "labelFontSize": 16, "labelColor": "black", "labelExpr": "datum.label == 'eas' ? 'EAS data (norm.)' : datum.label == 'amb' ? 'Sim ambient e⁻' : datum.label == 'sim' ? 'Sim data' : datum.label == 'pho' ? 'Sim photo e⁻' : datum.label == 'mod' ? 'Sim model' : 'Sim secondary e⁻'"}}
         }}
      ]
    },
    {
      "width": 452, "height": 233,
      "title": {"text": "SPIS RUN B"},
      "data": {"name": "B_psd"},
      "resolve": {"axis": {"x": "independent", "y": "independent"}},
      "layer": [
        {"data": {"values": [{"e": 7.96}]}, "mark": {"type": "rule", "color": "#8a8a8a", "strokeDash": [6, 3], "strokeWidth": 2},
         "encoding": {"x": {"field": "e", "type": "quantitative", "scale": {"type": "log", "domain": [1, 500], "nice": false}, "axis": null}, "y": {"datum": 1, "type": "quantitative", "scale": {"type": "log", "domain": [1, 9.5e8], "nice": false}, "axis": null}, "y2": {"datum": 1.74e6}}},
        {"data": {"values": [{"e": 7.42}]}, "mark": {"type": "rule", "color": "black", "strokeDash": [6, 3], "strokeWidth": 2},
         "encoding": {"x": {"field": "e", "type": "quantitative", "scale": {"type": "log", "domain": [1, 500], "nice": false}, "axis": null}, "y": {"datum": 1, "type": "quantitative", "scale": {"type": "log", "domain": [1, 9.5e8], "nice": false}, "axis": null}, "y2": {"datum": 1.74e6}}},
        {"transform": [{"filter": "datum.s == 'mod2'"}], "mark": {"type": "line", "color": "#ff2020", "strokeDash": [2.2, 2.4], "strokeWidth": 2.3, "clip": true},
         "encoding": {"x": {"field": "e", "type": "quantitative", "scale": {"type": "log", "domain": [1, 500], "nice": false}, "axis": null}, "y": {"field": "v", "type": "quantitative", "scale": {"type": "log", "domain": [1, 9.5e8], "nice": false}, "axis": null}}},
        {"transform": [{"filter": "datum.s == 'mod'"}], "mark": {"type": "line", "color": "black", "strokeDash": [2.2, 2.4], "strokeWidth": 2.3, "clip": true},
         "encoding": {
           "x": {"field": "e", "type": "quantitative", "scale": {"type": "log", "domain": [1, 500], "nice": false}, "axis": {"orient": "top", "values": [1,2,3,4,5,6,7,8,9,10,20,30,40,50,60,70,80,90,100,200,300,400], "labels": false, "tickSize": 0, "title": null, "encode": {"ticks": {"update": {"y2": {"signal": "(datum.value == 1 || datum.value == 10 || datum.value == 100) ? 6 : 3"}}}}}},
           "y": {"field": "v", "type": "quantitative", "scale": {"type": "log", "domain": [1, 9.5e8], "nice": false}, "axis": {"orient": "right", "values": [1, 100, 10000, 1000000, 100000000], "labels": false, "tickSize": 0, "title": null, "encode": {"ticks": {"update": {"x2": {"value": -6}}}}}}
         }},
        {"transform": [{"filter": "datum.s != 'mod' && datum.s != 'mod2'"}], "mark": {"type": "point", "filled": false, "opacity": 1, "clip": true},
         "encoding": {
           "x": {"field": "e", "type": "quantitative", "scale": {"type": "log", "domain": [1, 500], "nice": false}, "axis": {"orient": "bottom", "values": [1,2,3,4,5,6,7,8,9,10,20,30,40,50,60,70,80,90,100,200,300,400], "labelExpr": "datum.value == 1 ? '10⁰' : datum.value == 10 ? '10¹' : datum.value == 100 ? '10²' : ''", "labelFlush": false, "labelOverlap": false, "tickSize": 0, "labelPadding": 5, "title": null, "encode": {"ticks": {"update": {"y2": {"signal": "(datum.value == 1 || datum.value == 10 || datum.value == 100) ? -6 : -3"}}}}}},
           "y": {"field": "v", "type": "quantitative", "scale": {"type": "log", "domain": [1, 9.5e8], "nice": false}, "axis": {"orient": "left", "values": [1, 100, 10000, 1000000, 100000000], "labelExpr": "datum.value == 1 ? '10⁰' : datum.value == 100 ? '10²' : datum.value == 10000 ? '10⁴' : datum.value == 1000000 ? '10⁶' : '10⁸'", "tickSize": 0, "labelPadding": 4, "title": null, "encode": {"ticks": {"update": {"x2": {"value": 6}}}}}},
           "color": {"field": "s", "type": "nominal", "scale": {"domain": ["eas","sim","mod","amb","pho","sec"], "range": ["#7f7f7f","#000000","#000000","#21b33c","#1f63b5","#ff4020"]},
             "legend": {"orient": "none", "legendX": 122, "legendY": 10, "columns": 2, "gridAlign": "all", "title": null, "padding": 0, "rowPadding": 1, "columnPadding": 32, "labelOffset": 9, "labelFont": "Liberation Serif", "labelFontSize": 16, "labelColor": "black", "labelExpr": "datum.label == 'eas' ? 'EAS data (norm.)' : datum.label == 'amb' ? 'Sim ambient e⁻' : datum.label == 'sim' ? 'Sim data' : datum.label == 'pho' ? 'Sim photo e⁻' : datum.label == 'mod' ? 'Sim model' : 'Sim secondary e⁻'"}},
           "shape": {"field": "s", "type": "nominal", "scale": {"domain": ["eas","sim","mod","amb","pho","sec"], "range": ["M-1,-1L1,1M-1,1L1,-1","circle","stroke","M-1,-1L1,1M-1,1L1,-1","M-1,-1L1,1M-1,1L1,-1","M-1,-1L1,1M-1,1L1,-1"]},
             "legend": {"orient": "none", "legendX": 122, "legendY": 10, "columns": 2, "gridAlign": "all", "title": null, "padding": 0, "rowPadding": 1, "columnPadding": 32, "labelOffset": 9, "labelFont": "Liberation Serif", "labelFontSize": 16, "labelColor": "black", "labelExpr": "datum.label == 'eas' ? 'EAS data (norm.)' : datum.label == 'amb' ? 'Sim ambient e⁻' : datum.label == 'sim' ? 'Sim data' : datum.label == 'pho' ? 'Sim photo e⁻' : datum.label == 'mod' ? 'Sim model' : 'Sim secondary e⁻'"}},
           "size": {"field": "s", "type": "nominal", "scale": {"type": "ordinal", "domain": ["eas","sim","mod","amb","pho","sec"], "range": [28, 5, 361, 85, 85, 85]},
             "legend": {"orient": "none", "legendX": 122, "legendY": 10, "columns": 2, "gridAlign": "all", "title": null, "padding": 0, "rowPadding": 1, "columnPadding": 32, "labelOffset": 9, "labelFont": "Liberation Serif", "labelFontSize": 16, "labelColor": "black", "labelExpr": "datum.label == 'eas' ? 'EAS data (norm.)' : datum.label == 'amb' ? 'Sim ambient e⁻' : datum.label == 'sim' ? 'Sim data' : datum.label == 'pho' ? 'Sim photo e⁻' : datum.label == 'mod' ? 'Sim model' : 'Sim secondary e⁻'"}},
           "strokeWidth": {"field": "s", "type": "nominal", "scale": {"type": "ordinal", "domain": ["eas","sim","mod","amb","pho","sec"], "range": [1.4, 2.6, 2.3, 1.6, 1.6, 1.6]},
             "legend": {"orient": "none", "legendX": 122, "legendY": 10, "columns": 2, "gridAlign": "all", "title": null, "padding": 0, "rowPadding": 1, "columnPadding": 32, "labelOffset": 9, "labelFont": "Liberation Serif", "labelFontSize": 16, "labelColor": "black", "labelExpr": "datum.label == 'eas' ? 'EAS data (norm.)' : datum.label == 'amb' ? 'Sim ambient e⁻' : datum.label == 'sim' ? 'Sim data' : datum.label == 'pho' ? 'Sim photo e⁻' : datum.label == 'mod' ? 'Sim model' : 'Sim secondary e⁻'"}},
           "strokeDash": {"field": "s", "type": "nominal", "scale": {"domain": ["eas","sim","mod","amb","pho","sec"], "range": [[1,0],[1,0],[2.2,2.4],[1,0],[1,0],[1,0]]},
             "legend": {"orient": "none", "legendX": 122, "legendY": 10, "columns": 2, "gridAlign": "all", "title": null, "padding": 0, "rowPadding": 1, "columnPadding": 32, "labelOffset": 9, "labelFont": "Liberation Serif", "labelFontSize": 16, "labelColor": "black", "labelExpr": "datum.label == 'eas' ? 'EAS data (norm.)' : datum.label == 'amb' ? 'Sim ambient e⁻' : datum.label == 'sim' ? 'Sim data' : datum.label == 'pho' ? 'Sim photo e⁻' : datum.label == 'mod' ? 'Sim model' : 'Sim secondary e⁻'"}}
         }}
      ]
    },
    {
      "width": 452, "height": 233,
      "data": {"name": "A_def"},
      "resolve": {"axis": {"x": "independent", "y": "independent"}},
      "layer": [
        {"data": {"values": [{"lo": 4.7, "hi": 6.15}]}, "mark": {"type": "rect", "color": "#d9d9d9"},
         "encoding": {"x": {"field": "lo", "type": "quantitative", "scale": {"type": "log", "domain": [1, 500], "nice": false}, "axis": null}, "x2": {"field": "hi"}}},
        {"data": {"values": [{"e": 2.345}]}, "mark": {"type": "rule", "color": "#8a8a8a", "strokeDash": [6, 3], "strokeWidth": 2},
         "encoding": {"x": {"field": "e", "type": "quantitative", "scale": {"type": "log", "domain": [1, 500], "nice": false}, "axis": null}}},
        {"data": {"values": [{"e": 2.315}]}, "mark": {"type": "rule", "color": "black", "strokeDash": [6, 3], "strokeWidth": 2},
         "encoding": {"x": {"field": "e", "type": "quantitative", "scale": {"type": "log", "domain": [1, 500], "nice": false}, "axis": null}}},
        {"transform": [{"filter": "datum.s == 'mod'"}], "mark": {"type": "line", "color": "black", "strokeDash": [2.2, 2.4], "strokeWidth": 2.3, "clip": true},
         "encoding": {
           "x": {"field": "e", "type": "quantitative", "scale": {"type": "log", "domain": [1, 500], "nice": false}, "axis": {"orient": "top", "values": [1,2,3,4,5,6,7,8,9,10,20,30,40,50,60,70,80,90,100,200,300,400], "labels": false, "tickSize": 0, "title": null, "encode": {"ticks": {"update": {"y2": {"signal": "(datum.value == 1 || datum.value == 10 || datum.value == 100) ? 6 : 3"}}}}}},
           "y": {"field": "v", "type": "quantitative", "scale": {"type": "log", "domain": [1e10, 7.5e12], "nice": false}, "axis": {"orient": "right", "values": [1e10,2e10,3e10,4e10,5e10,6e10,7e10,8e10,9e10,1e11,2e11,3e11,4e11,5e11,6e11,7e11,8e11,9e11,1e12,2e12,3e12,4e12,5e12,6e12,7e12], "labels": false, "tickSize": 0, "title": null, "encode": {"ticks": {"update": {"x2": {"signal": "(datum.value == 1e10 || datum.value == 1e11 || datum.value == 1e12) ? -6 : -3"}}}}}}
         }},
        {"transform": [{"filter": "datum.s != 'mod' && datum.s != 'mod2'"}], "mark": {"type": "point", "filled": false, "opacity": 1, "clip": true},
         "encoding": {
           "x": {"field": "e", "type": "quantitative", "scale": {"type": "log", "domain": [1, 500], "nice": false}, "axis": {"orient": "bottom", "values": [1,2,3,4,5,6,7,8,9,10,20,30,40,50,60,70,80,90,100,200,300,400], "labelExpr": "datum.value == 1 ? '10⁰' : datum.value == 10 ? '10¹' : datum.value == 100 ? '10²' : ''", "labelFlush": false, "labelOverlap": false, "tickSize": 0, "labelPadding": 5, "title": "Energy [eV]", "titlePadding": 3, "encode": {"ticks": {"update": {"y2": {"signal": "(datum.value == 1 || datum.value == 10 || datum.value == 100) ? -6 : -3"}}}}}},
           "y": {"field": "v", "type": "quantitative", "scale": {"type": "log", "domain": [1e10, 7.5e12], "nice": false}, "axis": {"orient": "left", "values": [1e10,2e10,3e10,4e10,5e10,6e10,7e10,8e10,9e10,1e11,2e11,3e11,4e11,5e11,6e11,7e11,8e11,9e11,1e12,2e12,3e12,4e12,5e12,6e12,7e12], "labelExpr": "datum.value == 1e10 ? '10¹⁰' : datum.value == 1e11 ? '10¹¹' : datum.value == 1e12 ? '10¹²' : ''", "labelOverlap": false, "tickSize": 0, "labelPadding": 4, "title": "DEF [eV⁻¹s⁻¹m⁻²sr⁻¹eV]", "titlePadding": 6, "encode": {"ticks": {"update": {"x2": {"signal": "(datum.value == 1e10 || datum.value == 1e11 || datum.value == 1e12) ? 6 : 3"}}}}}},
           "color": {"field": "s", "type": "nominal", "scale": {"domain": ["eas","sim","mod","amb","pho","sec"], "range": ["#7f7f7f","#000000","#000000","#21b33c","#1f63b5","#ff4020"]}, "legend": null},
           "shape": {"field": "s", "type": "nominal", "scale": {"domain": ["eas","sim","mod","amb","pho","sec"], "range": ["M-1,-1L1,1M-1,1L1,-1","circle","stroke","M-1,-1L1,1M-1,1L1,-1","M-1,-1L1,1M-1,1L1,-1","M-1,-1L1,1M-1,1L1,-1"]}, "legend": null},
           "size": {"field": "s", "type": "nominal", "scale": {"type": "ordinal", "domain": ["eas","sim","mod","amb","pho","sec"], "range": [28, 5, 361, 85, 85, 85]}, "legend": null},
           "strokeWidth": {"field": "s", "type": "nominal", "scale": {"type": "ordinal", "domain": ["eas","sim","mod","amb","pho","sec"], "range": [1.4, 2.6, 2.3, 1.6, 1.6, 1.6]}, "legend": null}
         }},
        {"data": {"values": [{"e1": 12.8, "v1": 4.03e11, "e2": 6.07, "v2": 1.61e12}]}, "mark": {"type": "rule", "color": "#808080", "strokeWidth": 4.5},
         "encoding": {"x": {"field": "e1", "type": "quantitative", "scale": {"type": "log", "domain": [1, 500], "nice": false}, "axis": null}, "y": {"field": "v1", "type": "quantitative", "scale": {"type": "log", "domain": [1e10, 7.5e12], "nice": false}, "axis": null}, "x2": {"field": "e2"}, "y2": {"field": "v2"}}},
        {"data": {"values": [{"e": 6.07, "v": 1.61e12}]}, "mark": {"type": "point", "shape": "triangle-up", "filled": true, "color": "#808080", "opacity": 1, "size": 230, "angle": 311},
         "encoding": {"x": {"field": "e", "type": "quantitative", "scale": {"type": "log", "domain": [1, 500], "nice": false}, "axis": null}, "y": {"field": "v", "type": "quantitative", "scale": {"type": "log", "domain": [1e10, 7.5e12], "nice": false}, "axis": null}}},
        {"data": {"values": [{"e": 14.3, "v": 2.69e11, "t": "True EAS potential?"}]}, "mark": {"type": "text", "align": "left", "baseline": "middle", "font": "Liberation Serif", "fontSize": 16, "color": "#3a3a3a"},
         "encoding": {"x": {"field": "e", "type": "quantitative", "scale": {"type": "log", "domain": [1, 500], "nice": false}, "axis": null}, "y": {"field": "v", "type": "quantitative", "scale": {"type": "log", "domain": [1e10, 7.5e12], "nice": false}, "axis": null}, "text": {"field": "t"}}}
      ]
    },
    {
      "width": 452, "height": 233,
      "data": {"name": "B_def"},
      "resolve": {"axis": {"x": "independent", "y": "independent"}},
      "layer": [
        {"data": {"values": [{"e": 7.96}]}, "mark": {"type": "rule", "color": "#8a8a8a", "strokeDash": [6, 3], "strokeWidth": 2},
         "encoding": {"x": {"field": "e", "type": "quantitative", "scale": {"type": "log", "domain": [1, 500], "nice": false}, "axis": null}}},
        {"data": {"values": [{"e": 7.42}]}, "mark": {"type": "rule", "color": "black", "strokeDash": [6, 3], "strokeWidth": 2},
         "encoding": {"x": {"field": "e", "type": "quantitative", "scale": {"type": "log", "domain": [1, 500], "nice": false}, "axis": null}}},
        {"transform": [{"filter": "datum.s == 'mod2'"}], "mark": {"type": "line", "color": "#ff2020", "strokeDash": [2.2, 2.4], "strokeWidth": 2.3, "clip": true},
         "encoding": {"x": {"field": "e", "type": "quantitative", "scale": {"type": "log", "domain": [1, 500], "nice": false}, "axis": null}, "y": {"field": "v", "type": "quantitative", "scale": {"type": "log", "domain": [1e10, 7.5e12], "nice": false}, "axis": null}}},
        {"transform": [{"filter": "datum.s == 'mod'"}], "mark": {"type": "line", "color": "black", "strokeDash": [2.2, 2.4], "strokeWidth": 2.3, "clip": true},
         "encoding": {
           "x": {"field": "e", "type": "quantitative", "scale": {"type": "log", "domain": [1, 500], "nice": false}, "axis": {"orient": "top", "values": [1,2,3,4,5,6,7,8,9,10,20,30,40,50,60,70,80,90,100,200,300,400], "labels": false, "tickSize": 0, "title": null, "encode": {"ticks": {"update": {"y2": {"signal": "(datum.value == 1 || datum.value == 10 || datum.value == 100) ? 6 : 3"}}}}}},
           "y": {"field": "v", "type": "quantitative", "scale": {"type": "log", "domain": [1e10, 7.5e12], "nice": false}, "axis": {"orient": "right", "values": [1e10,2e10,3e10,4e10,5e10,6e10,7e10,8e10,9e10,1e11,2e11,3e11,4e11,5e11,6e11,7e11,8e11,9e11,1e12,2e12,3e12,4e12,5e12,6e12,7e12], "labels": false, "tickSize": 0, "title": null, "encode": {"ticks": {"update": {"x2": {"signal": "(datum.value == 1e10 || datum.value == 1e11 || datum.value == 1e12) ? -6 : -3"}}}}}}
         }},
        {"transform": [{"filter": "datum.s != 'mod' && datum.s != 'mod2'"}], "mark": {"type": "point", "filled": false, "opacity": 1, "clip": true},
         "encoding": {
           "x": {"field": "e", "type": "quantitative", "scale": {"type": "log", "domain": [1, 500], "nice": false}, "axis": {"orient": "bottom", "values": [1,2,3,4,5,6,7,8,9,10,20,30,40,50,60,70,80,90,100,200,300,400], "labelExpr": "datum.value == 1 ? '10⁰' : datum.value == 10 ? '10¹' : datum.value == 100 ? '10²' : ''", "labelFlush": false, "labelOverlap": false, "tickSize": 0, "labelPadding": 5, "title": "Energy [eV]", "titlePadding": 3, "encode": {"ticks": {"update": {"y2": {"signal": "(datum.value == 1 || datum.value == 10 || datum.value == 100) ? -6 : -3"}}}}}},
           "y": {"field": "v", "type": "quantitative", "scale": {"type": "log", "domain": [1e10, 7.5e12], "nice": false}, "axis": {"orient": "left", "values": [1e10,2e10,3e10,4e10,5e10,6e10,7e10,8e10,9e10,1e11,2e11,3e11,4e11,5e11,6e11,7e11,8e11,9e11,1e12,2e12,3e12,4e12,5e12,6e12,7e12], "labelExpr": "datum.value == 1e10 ? '10¹⁰' : datum.value == 1e11 ? '10¹¹' : datum.value == 1e12 ? '10¹²' : ''", "labelOverlap": false, "tickSize": 0, "labelPadding": 4, "title": "DEF [eV⁻¹s⁻¹m⁻²sr⁻¹eV]", "titlePadding": 6, "encode": {"ticks": {"update": {"x2": {"signal": "(datum.value == 1e10 || datum.value == 1e11 || datum.value == 1e12) ? 6 : 3"}}}}}},
           "color": {"field": "s", "type": "nominal", "scale": {"domain": ["eas","sim","mod","amb","pho","sec"], "range": ["#7f7f7f","#000000","#000000","#21b33c","#1f63b5","#ff4020"]}, "legend": null},
           "shape": {"field": "s", "type": "nominal", "scale": {"domain": ["eas","sim","mod","amb","pho","sec"], "range": ["M-1,-1L1,1M-1,1L1,-1","circle","stroke","M-1,-1L1,1M-1,1L1,-1","M-1,-1L1,1M-1,1L1,-1","M-1,-1L1,1M-1,1L1,-1"]}, "legend": null},
           "size": {"field": "s", "type": "nominal", "scale": {"type": "ordinal", "domain": ["eas","sim","mod","amb","pho","sec"], "range": [28, 5, 361, 85, 85, 85]}, "legend": null},
           "strokeWidth": {"field": "s", "type": "nominal", "scale": {"type": "ordinal", "domain": ["eas","sim","mod","amb","pho","sec"], "range": [1.4, 2.6, 2.3, 1.6, 1.6, 1.6]}, "legend": null}
         }}
      ]
    }
  ]
}
